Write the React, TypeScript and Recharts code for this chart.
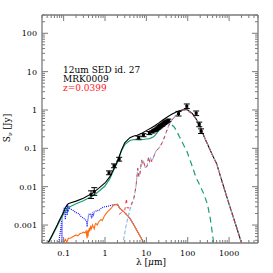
import { ComposedChart, Line, Scatter, ErrorBar, XAxis, YAxis } from "recharts";

// frame of the plot box, in px
const LEFT = 42;
const TOP = 15;
const RIGHT = 258;
const BOTTOM = 243;
const W = 273;
const H = 273;

const AXIS = "#7a7a7a";
const FONT = "DejaVu Serif";

// axis ranges and labelled decades
const X_DOMAIN = [0.03, 5000];
const Y_DOMAIN = [3.4e-4, 300];
const X_MAJOR = [0.1, 1, 10, 100, 1000];
const Y_MAJOR = [0.001, 0.01, 0.1, 1, 10, 100];
const X_DECADES = [0.01, 0.1, 1, 10, 100, 1000];
const Y_DECADES = [0.0001, 0.001, 0.01, 0.1, 1, 10, 100];

// total model (black)
const TOTAL_WL = [0.036, 0.042, 0.05, 0.06, 0.07, 0.08, 0.09, 0.1, 0.11, 0.12, 0.13, 0.15, 0.2, 0.3, 0.5, 0.7, 1, 1.3, 1.6, 2, 2.5, 3, 4, 5, 6, 8, 10, 13, 16, 20, 25, 30, 40, 50, 60, 70, 80, 90, 100, 130, 160, 200, 250, 300, 400, 500, 700, 1000, 1500, 2000, 2400];
const TOTAL_FLUX = [2e-4, 3.4e-4, 4.9e-4, 7.2e-4, 1e-3, 1.37e-3, 1.75e-3, 2.2e-3, 2.8e-3, 3.3e-3, 3.6e-3, 3.8e-3, 4.2e-3, 5e-3, 6.8e-3, 9e-3, 0.0125, 0.018, 0.028, 0.046, 0.09, 0.14, 0.19, 0.21, 0.22, 0.25, 0.29, 0.34, 0.39, 0.46, 0.55, 0.63, 0.76, 0.86, 0.94, 0.99, 1.03, 1.03, 1.0, 0.8, 0.58, 0.36, 0.2, 0.13, 0.065, 0.04, 0.012, 0.0035, 0.0009, 3.4e-4, 1.6e-4];

// green component, solid then dashed
const GREEN_WL = [0.036, 0.042, 0.05, 0.06, 0.07, 0.08, 0.09, 0.1, 0.12, 0.15, 0.2, 0.3, 0.5, 0.7, 1, 1.3, 1.6, 2, 2.5, 3, 4, 5, 7, 10, 12, 15, 18, 20, 25];
const GREEN_FLUX = [2e-4, 3.4e-4, 4.6e-4, 6.8e-4, 9.5e-4, 1.25e-3, 1.6e-3, 1.95e-3, 2.6e-3, 3.1e-3, 3.6e-3, 4.3e-3, 5.7e-3, 7.5e-3, 0.0104, 0.016, 0.026, 0.043, 0.085, 0.125, 0.16, 0.17, 0.165, 0.175, 0.18, 0.2, 0.25, 0.3, 0.4];
const GREEN_DASH_WL = [25, 30, 35, 40, 47, 55, 65, 80, 95, 120, 160, 200, 240, 300, 350, 400, 450];
const GREEN_DASH_FLUX = [0.4, 0.44, 0.45, 0.42, 0.36, 0.27, 0.19, 0.12, 0.085, 0.042, 0.017, 0.0105, 0.0068, 0.0035, 0.0015, 5.5e-4, 2e-4];

// dust emission (red dashed, light blue underneath)
const DUST_WL = [2.2, 2.6, 3.0, 3.2, 3.3, 3.45, 4, 5, 5.6, 6.2, 6.6, 7.0, 7.7, 8.2, 8.6, 9.5, 10.5, 11.3, 12, 12.7, 13.5, 15, 17, 20, 25, 30, 35, 40, 50, 60, 70, 80, 90, 100, 130, 160, 200, 250, 300, 400, 500, 700, 1000, 1500, 2000, 2400];
const DUST_FLUX = [0.0019, 0.0022, 0.0024, 0.0038, 0.005, 0.0028, 0.0028, 0.005, 0.01, 0.03, 0.018, 0.022, 0.05, 0.04, 0.045, 0.03, 0.035, 0.06, 0.045, 0.055, 0.045, 0.06, 0.085, 0.1, 0.15, 0.26, 0.4, 0.52, 0.7, 0.85, 0.95, 1.0, 1.0, 0.96, 0.78, 0.57, 0.35, 0.2, 0.13, 0.065, 0.039, 0.012, 0.0034, 0.0009, 3.4e-4, 1.6e-4];
const COLD_WL = [2.4, 2.8, 3.2, 3.6, 4];
const COLD_FLUX = [2e-4, 4e-4, 9e-4, 1.6e-3, 2.5e-3];

// unattenuated stars (blue dotted)
const UNATT_WL = [0.07, 0.08, 0.085, 0.088, 0.09, 0.091, 0.092, 0.095, 0.1, 0.105, 0.11, 0.115, 0.12, 0.122, 0.125, 0.128, 0.13, 0.135, 0.14, 0.15, 0.16, 0.17, 0.19, 0.2, 0.23, 0.26, 0.28, 0.3, 0.33, 0.36, 0.37, 0.38, 0.39, 0.4, 0.42, 0.45, 0.48, 0.5, 0.52, 0.55, 0.6, 0.66, 0.7, 0.8, 0.9, 1.0, 1.2, 1.6, 2.0, 2.3, 3, 4, 5, 6, 8, 10];
const UNATT_FLUX = [2e-4, 5e-4, 8e-4, 1.1e-3, 1.3e-3, 2e-4, 1.5e-3, 2e-3, 2.5e-3, 2.9e-3, 1.4e-3, 3e-3, 3.2e-3, 1.8e-3, 3.4e-3, 2.2e-3, 2.9e-3, 3e-3, 2.7e-3, 2.6e-3, 2.5e-3, 2.4e-3, 2.2e-3, 2.1e-3, 2e-3, 1.7e-3, 1.6e-3, 1.5e-3, 1.4e-3, 1.25e-3, 9e-4, 1.3e-3, 1.4e-3, 1.8e-3, 2e-3, 1.9e-3, 1.5e-3, 2.1e-3, 1.7e-3, 2.2e-3, 2.3e-3, 2.4e-3, 2.35e-3, 2.7e-3, 2.9e-3, 3e-3, 3.1e-3, 3.4e-3, 3.4e-3, 2.7e-3, 2.1e-3, 1.5e-3, 1e-3, 7e-4, 4e-4, 2.5e-4];

// attenuated stars (orange)
const ATT_WL = [0.095, 0.1, 0.11, 0.12, 0.13, 0.15, 0.17, 0.2, 0.22, 0.25, 0.28, 0.3, 0.33, 0.35, 0.37, 0.38, 0.39, 0.4, 0.41, 0.42, 0.43, 0.45, 0.47, 0.5, 0.52, 0.55, 0.58, 0.6, 0.65, 0.7, 0.8, 0.86, 0.96, 1.1, 1.4, 1.6, 2.0, 2.3, 2.6, 3, 4, 5, 6, 8, 10];
const ATT_FLUX = [2e-4, 3.4e-4, 4.2e-4, 3.6e-4, 4.5e-4, 4.6e-4, 5e-4, 5.5e-4, 5.2e-4, 6e-4, 6.2e-4, 6.5e-4, 6.3e-4, 7e-4, 4.5e-4, 7.2e-4, 5e-4, 7.5e-4, 6.5e-4, 8.5e-4, 7e-4, 9e-4, 8e-4, 1e-3, 9e-4, 8e-4, 1.05e-3, 1.1e-3, 1e-3, 1.2e-3, 1.4e-3, 1.3e-3, 1.7e-3, 2.1e-3, 2.7e-3, 3.3e-3, 3.5e-3, 2.7e-3, 2.4e-3, 2.1e-3, 1.5e-3, 1e-3, 7e-4, 4e-4, 2.5e-4];

// photometry with errors (dex)
const OBS_WL = [0.46, 0.55, 1.25, 1.65, 2.2, 6.5, 8.5, 11.8, 14, 15.5, 16.5, 17.5, 18.5, 19.5, 20.5, 21.5, 22.5, 23.5, 24.5, 25.5, 27, 28.5, 30, 32, 34, 60, 95, 160, 190, 210];
const OBS_FLUX = [0.0062, 0.0075, 0.023, 0.035, 0.052, 0.19, 0.22, 0.25, 0.27, 0.29, 0.3, 0.31, 0.33, 0.34, 0.36, 0.37, 0.39, 0.4, 0.41, 0.43, 0.45, 0.47, 0.49, 0.51, 0.54, 0.8, 1.25, 0.82, 0.42, 0.28];
const OBS_ERR = [0.1, 0.1, 0.05, 0.05, 0.05, 0.04, 0.04, 0.04, 0.03, 0.03, 0.03, 0.03, 0.03, 0.03, 0.03, 0.03, 0.03, 0.03, 0.03, 0.03, 0.03, 0.03, 0.03, 0.03, 0.03, 0.06, 0.06, 0.06, 0.06, 0.06];

const NAME = "12um SED id. 27";
const GALAXY = "MRK0009";
const REDSHIFT = "z=0.0399";

const zip = (wl: number[], f: number[]) => wl.map((x, i) => ({ x, y: f[i] }));

const totalData = zip(TOTAL_WL, TOTAL_FLUX);
const greenData = zip(GREEN_WL, GREEN_FLUX);
const greenDashData = zip(GREEN_DASH_WL, GREEN_DASH_FLUX);
const dustData = zip(DUST_WL, DUST_FLUX);
const coldData = [...zip(COLD_WL, COLD_FLUX), ...dustData.filter((d) => d.x >= 5)];
const unattData = zip(UNATT_WL, UNATT_FLUX);
const attData = zip(ATT_WL, ATT_FLUX);
const obsData = OBS_WL.map((x, i) => {
  const y = OBS_FLUX[i];
  const d = OBS_ERR[i];
  return { x, y, err: [y * (1 - Math.pow(10, -d)), y * (Math.pow(10, d) - 1)] };
});

const minorTicks = (decades: number[], domain: number[]) =>
  decades
    .flatMap((d) => [1, 2, 3, 4, 5, 6, 7, 8, 9].map((m) => +(d * m).toPrecision(3)))
    .filter((v) => v >= domain[0] * 0.999 && v <= domain[1] * 1.001);

const xTicks = minorTicks(X_DECADES, X_DOMAIN);
const yTicks = minorTicks(Y_DECADES, Y_DOMAIN);

const isMajor = (v: number) => Math.abs(Math.log10(v) - Math.round(Math.log10(v))) < 1e-6;

const makeTick = (side: "bottom" | "top" | "left" | "right") => (props: any) => {
  const { x, y, payload } = props;
  const v = payload.value;
  const major = isMajor(v);
  const len = major ? 6 : 3;
  const labelStyle = { fontFamily: FONT, fontSize: 8, fill: "#000" };
  if (side === "bottom") {
    return (
      <g>
        <line x1={x} x2={x} y1={BOTTOM} y2={BOTTOM - len} stroke={AXIS} />
        {major && X_MAJOR.includes(v) && (
          <text x={x} y={BOTTOM + 13} textAnchor="middle" {...labelStyle}>
            {String(v)}
          </text>
        )}
      </g>
    );
  }
  if (side === "top") {
    return <line x1={x} x2={x} y1={TOP} y2={TOP + len} stroke={AXIS} />;
  }
  if (side === "left") {
    return (
      <g>
        <line x1={LEFT} x2={LEFT + len} y1={y} y2={y} stroke={AXIS} />
        {major && Y_MAJOR.includes(v) && (
          <text x={LEFT - 5} y={y + 3} textAnchor="end" {...labelStyle}>
            {String(v)}
          </text>
        )}
      </g>
    );
  }
  return <line x1={RIGHT - len} x2={RIGHT} y1={y} y2={y} stroke={AXIS} />;
};

export default function App() {
  return (
    <div style={{ position: "absolute", left: 0, top: 0, width: W, height: H, background: "#fff" }}>
      <ComposedChart
        width={W}
        height={H}
        margin={{ top: TOP - 1, right: W - RIGHT - 1, bottom: H - BOTTOM - 1, left: LEFT - 1 }}
      >
        <XAxis
          xAxisId="b"
          type="number"
          dataKey="x"
          scale="log"
          domain={X_DOMAIN}
          allowDataOverflow
          ticks={xTicks}
          interval={0}
          height={1}
          tickLine={false}
          axisLine={{ stroke: AXIS, strokeWidth: 1.3 }}
          tick={makeTick("bottom")}
        />
        <XAxis
          xAxisId="t"
          orientation="top"
          type="number"
          dataKey="x"
          scale="log"
          domain={X_DOMAIN}
          allowDataOverflow
          ticks={xTicks}
          interval={0}
          height={1}
          tickLine={false}
          axisLine={{ stroke: AXIS, strokeWidth: 1.3 }}
          tick={makeTick("top")}
        />
        <YAxis
          yAxisId="l"
          type="number"
          dataKey="y"
          scale="log"
          domain={Y_DOMAIN}
          allowDataOverflow
          ticks={yTicks}
          interval={0}
          width={1}
          tickLine={false}
          axisLine={{ stroke: AXIS, strokeWidth: 1.3 }}
          tick={makeTick("left")}
        />
        <YAxis
          yAxisId="r"
          orientation="right"
          type="number"
          dataKey="y"
          scale="log"
          domain={Y_DOMAIN}
          allowDataOverflow
          ticks={yTicks}
          interval={0}
          width={1}
          tickLine={false}
          axisLine={{ stroke: AXIS, strokeWidth: 1.3 }}
          tick={makeTick("right")}
        />

        <Line xAxisId="b" yAxisId="l" data={unattData} dataKey="y" stroke="#1a1aff" strokeWidth={1.2} strokeDasharray="1 1" dot={false} isAnimationActive={false} />
        <Line xAxisId="b" yAxisId="l" data={attData} dataKey="y" stroke="#ff6a10" strokeWidth={1.1} dot={false} isAnimationActive={false} />
        <Line xAxisId="b" yAxisId="l" data={greenData} dataKey="y" stroke="#1d9e74" strokeWidth={1.2} dot={false} isAnimationActive={false} />
        <Line xAxisId="b" yAxisId="l" data={greenDashData} dataKey="y" stroke="#1d9e74" strokeWidth={1.2} strokeDasharray="6 4" dot={false} isAnimationActive={false} />
        <Line xAxisId="b" yAxisId="l" data={totalData} dataKey="y" stroke="#000" strokeWidth={1.1} dot={false} isAnimationActive={false} />
        <Line xAxisId="b" yAxisId="l" data={coldData} dataKey="y" stroke="#8fb8dc" strokeWidth={1.1} strokeDasharray="4 2" dot={false} isAnimationActive={false} />
        <Line xAxisId="b" yAxisId="l" data={dustData} dataKey="y" stroke="#e8333c" strokeWidth={1} strokeDasharray="3 4" dot={false} isAnimationActive={false} />
        <Scatter
          xAxisId="b"
          yAxisId="l"
          data={obsData}
          dataKey="y"
          isAnimationActive={false}
          shape={(p: any) => <rect x={p.cx - 1.5} y={p.cy - 1.5} width={3} height={3} fill="#000" />}
        >
          <ErrorBar dataKey="err" direction="y" width={3} stroke="#000" strokeWidth={1} isAnimationActive={false} />
        </Scatter>

        <text x={63} y={73} fontFamily={FONT} fontSize={9} fill="#000">{NAME}</text>
        <text x={63} y={82} fontFamily={FONT} fontSize={9} fill="#000">{GALAXY}</text>
        <text x={63} y={91} fontFamily={FONT} fontSize={9} fill="#ff2020">{REDSHIFT}</text>
        <text
          x={10}
          y={128}
          transform="rotate(-90 10 128)"
          textAnchor="middle"
          fontFamily={FONT}
          fontSize={9}
          fill="#000"
        >
          S<tspan dy={2} fontSize={6}>ν</tspan>
          <tspan dy={-2}> [Jy]</tspan>
        </text>
        <text x={151} y={265} textAnchor="middle" fontFamily={FONT} fontSize={9} fill="#000">
          λ [<tspan fontStyle="italic">μ</tspan>m]
        </text>
      </ComposedChart>
    </div>
  );
}
